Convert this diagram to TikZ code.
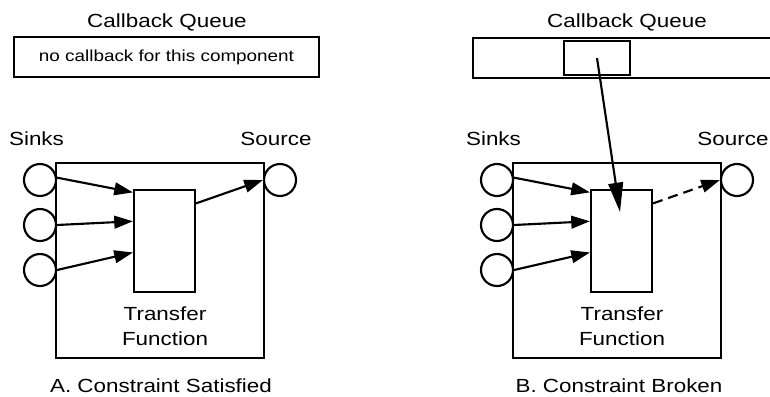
\documentclass[tikz,border=0pt]{standalone}
\usepackage{fontspec}
\setmainfont[FakeStretch=1.18]{Liberation Sans}
\usetikzlibrary{arrows.meta,calc}

\tikzstyle{caption} = [font=\fontsize{14.25}{18.75}\selectfont,inner sep=0pt,anchor=base,align=center]
\tikzstyle{queue} = [draw=black,rectangle,line width=1.6pt,minimum width=228.75pt,minimum height=30pt,font=\fontsize{12}{14}\selectfont,inner sep=0pt]
\tikzstyle{slot} = [draw=black,rectangle,line width=1.6pt,minimum width=49.5pt,minimum height=25.5pt,inner sep=0pt]
\tikzstyle{component} = [draw=black,rectangle,line width=1.6pt,minimum width=156pt,minimum height=146.25pt,inner sep=0pt]
\tikzstyle{transfer} = [draw=black,rectangle,line width=1.6pt,minimum width=45.75pt,minimum height=76.5pt,inner sep=0pt]
\tikzstyle{port} = [draw=black,circle,line width=1.6pt,minimum size=24pt,inner sep=0pt]
\tikzstyle{flow} = [line width=1.6pt,-{Triangle[length=14pt,width=9.5pt]}]

\begin{document}
\begin{tikzpicture}[x=0.75pt,y=-0.75pt]
	\useasboundingbox (0,0) rectangle (770,396);
	% A. constraint satisfied
	\node (titleA) [caption] at (167,27.5) {Callback Queue};
	\node (queueA) [queue] at (166.5,57) {no callback for this component};
	\node (sinksA) [caption] at (36.5,145) {Sinks};
	\node (sourceA) [caption] at (276,145) {Source};
	\node (compA) [component] at (160,260.5) {};
	\node (tfA) [transfer] at (164.5,241) {};
	\node (tflabelA) [caption] at (165,345) {Transfer\\Function};
	\node (sinkA1) [port] at (40,180) {};
	\node (sinkA2) [port] at (40,225) {};
	\node (sinkA3) [port] at (40,270) {};
	\node (srcA) [port] at (280,180) {};
	\node (capA) [caption] at (161,392) {A. Constraint Satisfied};
	\draw [flow] (sinkA1.8) -- (tfA.123);
	\draw [flow] (sinkA2.east) -- (tfA.148);
	\draw [flow] (sinkA3.east) -- (tfA.200);
	\draw [flow] (tfA.50) -- (srcA.west);

	% B. constraint broken
	\node (titleB) [caption] at (627,27.5) {Callback Queue};
	\draw [line width=1.6pt] (770,38) -- (473,38) -- (473,78) -- (770,78);
	\node (slotB) [slot] at (597,58) {};
	\node (sinksB) [caption] at (493.5,145) {Sinks};
	\node (sourceB) [caption] at (733,145) {Source};
	\node (compB) [component] at (617,260.5) {};
	\node (tfB) [transfer] at (621.5,241) {};
	\node (tflabelB) [caption] at (622,345) {Transfer\\Function};
	\node (sinkB1) [port] at (497,180) {};
	\node (sinkB2) [port] at (497,225) {};
	\node (sinkB3) [port] at (497,270) {};
	\node (srcB) [port] at (737,180) {};
	\node (capB) [caption] at (619,392) {B. Constraint Broken};
	\coordinate (hitB) at ($(tfB.center)+(-1.5,-29)$);
	\draw [flow] (sinkB1.8) -- (tfB.123);
	\draw [flow] (sinkB2.east) -- (tfB.148);
	\draw [flow] (sinkB3.east) -- (tfB.200);
	\draw [flow,-{Triangle[length=22pt,width=11pt]}] (slotB.center) -- (hitB);
	\draw [flow,dash pattern=on 7.5pt off 4.5pt] (tfB.50) -- (srcB.west);
\end{tikzpicture}
\end{document}
